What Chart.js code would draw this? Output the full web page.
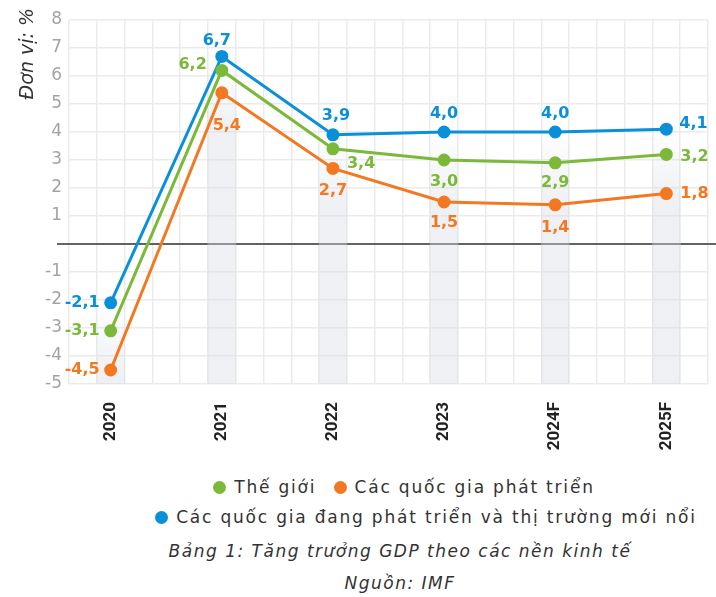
<!DOCTYPE html>
<html>
<head>
<meta charset="utf-8">
<script src="https://cdn.jsdelivr.net/npm/chart.js@4"></script>
<style>
  body { margin: 0; background: #fff; width: 716px; font-family: "DejaVu Sans", sans-serif; color: #333; }
  #wrap { position: relative; width: 716px; height: 460px; }
  .row { font-size: 17px; line-height: 30px; white-space: nowrap; text-align: center; letter-spacing: 1.8px; }
  .dot { display: inline-block; width: 13px; height: 13px; border-radius: 50%; margin-right: 8px; vertical-align: -1px; }
  .item { margin: 0 5px; }
  .cap { font-style: italic; font-size: 17px; line-height: 32px; text-align: center; padding-left: 84px; letter-spacing: 1.5px; }
</style>
</head>
<body>
<div id="wrap"><canvas id="gdpChart" width="716" height="460"></canvas></div>
<div class="row" style="padding-left:92px; margin-top:12px">
  <span class="item"><span class="dot" style="background:#7cb93a"></span>Thế giới</span>
  <span class="item"><span class="dot" style="background:#f37822"></span>Các quốc gia phát triển</span>
</div>
<div class="row" style="padding-left:136px">
  <span class="item"><span class="dot" style="background:#0a90d8"></span>Các quốc gia đang phát triển và thị trường mới nổi</span>
</div>
<div class="cap" style="margin-top:3px">Bảng 1: Tăng trưởng GDP theo các nền kinh tế</div>
<div class="cap">Nguồn: IMF</div>

<script>
let years = ["2020", "2021", "2022", "2023", "2024F", "2025F"];
let world = [-3.1, 6.2, 3.4, 3.0, 2.9, 3.2];
let developed = [-4.5, 5.4, 2.7, 1.5, 1.4, 1.8];
let emerging = [-2.1, 6.7, 3.9, 4.0, 4.0, 4.1];
let yTicks = [-5, -4, -3, -2, -1, 0, 1, 2, 3, 4, 5, 6, 7, 8];

// where each value label sits relative to its point: [align, dx, dy]
let worldLabelPos = [["l", -11, 0], ["l", -15, -6], ["r", 14, 15], ["c", 0, 22], ["c", 0, 20], ["r", 14, 2]];
let developedLabelPos = [["l", -11, 0], ["c", 5, 33], ["c", 0, 22], ["c", 0, 21], ["c", 0, 23], ["r", 14, 0]];
let emergingLabelPos = [["l", -11, 0], ["c", -5, -16], ["c", 3, -19], ["c", 0, -18], ["c", 0, -18], ["r", 13, -5]];

const GREEN = "#7cb93a", ORANGE = "#f37822", BLUE = "#0a90d8";

function pts(arr) {
    return arr.map((v, i) => ({ x: i, y: v }));
}

let bandTops = years.map((_, i) => Math.max(world[i], developed[i], emerging[i]));

const valueLabels = {
    id: "valueLabels",
    afterDatasetsDraw(chart) {
        const ctx = chart.ctx;
        const sets = [[world, worldLabelPos, GREEN], [developed, developedLabelPos, ORANGE], [emerging, emergingLabelPos, BLUE]];
        ctx.save();
        ctx.font = "bold 16px 'DejaVu Sans'";
        ctx.textBaseline = "middle";
        sets.forEach(([vals, pos, color]) => {
            vals.forEach((v, i) => {
                const x = chart.scales.x.getPixelForValue(i);
                const y = chart.scales.y.getPixelForValue(v);
                const [a, dx, dy] = pos[i];
                ctx.textAlign = a == "l" ? "right" : a == "r" ? "left" : "center";
                ctx.fillStyle = color;
                ctx.fillText(v.toFixed(1).replace(".", ","), x + dx, y + dy);
            });
        });
        ctx.restore();
    }
};

const zeroLine = {
    id: "zeroLine",
    beforeDatasetsDraw(chart) {
        const ctx = chart.ctx;
        const y = chart.scales.y.getPixelForValue(0);
        ctx.save();
        ctx.strokeStyle = "#333";
        ctx.lineWidth = 1.5;
        ctx.beginPath();
        ctx.moveTo(chart.chartArea.left - 12, y);
        ctx.lineTo(chart.chartArea.right + 10, y);
        ctx.stroke();
        ctx.restore();
    }
};

const unitTitle = {
    id: "unitTitle",
    afterDraw(chart) {
        const ctx = chart.ctx;
        ctx.save();
        ctx.translate(28, 8);
        ctx.rotate(-Math.PI / 2);
        ctx.font = "italic 19px 'DejaVu Sans'";
        ctx.fillStyle = "#333";
        ctx.textAlign = "right";
        ctx.textBaseline = "middle";
        ctx.fillText("Đơn vị: %", 0, 0);
        ctx.restore();
    }
};

function bandFill(context) {
    const chart = context.chart;
    if (!chart.chartArea) return "rgba(215,219,226,0.4)";
    const top = chart.scales.y.getPixelForValue(bandTops[context.dataIndex]);
    const g = chart.ctx.createLinearGradient(0, top, 0, top + 70);
    g.addColorStop(0, "rgba(215,219,226,0)");
    g.addColorStop(1, "rgba(215,219,226,0.4)");
    return g;
}

function lineSet(label, data, color) {
    return {
        type: "line",
        label: label,
        data: pts(data),
        borderColor: color,
        backgroundColor: color,
        borderWidth: 3,
        pointRadius: 5,
        pointHoverRadius: 5,
        tension: 0,
        order: 1
    };
}

function noPad(s) {
    s.paddingLeft = 0;
    s.paddingRight = 0;
    s.paddingTop = 0;
    s.paddingBottom = 0;
}

let ctx = document.getElementById("gdpChart").getContext("2d");
let chart = new Chart(ctx, {
    data: {
        datasets: [
            {
                type: "bar",
                data: bandTops.map((t, i) => ({ x: i, y: [-5, t] })),
                backgroundColor: bandFill,
                barThickness: 28,
                order: 10
            },
            lineSet("Thế giới", world, GREEN),
            lineSet("Các quốc gia phát triển", developed, ORANGE),
            lineSet("Các quốc gia đang phát triển và thị trường mới nổi", emerging, BLUE)
        ]
    },
    options: {
        responsive: false,
        animation: false,
        layout: { padding: { top: 20, right: 5, left: 0, bottom: 0 } },
        plugins: { legend: { display: false }, tooltip: { enabled: false } },
        scales: {
            x: {
                type: "linear",
                offset: false,
                min: -0.375,
                max: years.length - 0.625,
                afterBuildTicks: (axis) => {
                    let t = [];
                    for (let v = axis.min; v <= axis.max + 1e-6; v += 0.25) t.push({ value: v });
                    axis.ticks = t;
                },
                ticks: { display: false },
                grid: { color: "#ebebeb", lineWidth: 1.5, drawTicks: false, offset: false },
                border: { display: false },
                afterFit: (s) => { s.height = 0; noPad(s); }
            },
            xl: {
                type: "linear",
                position: "bottom",
                offset: false,
                min: -0.375,
                max: years.length - 0.625,
                afterBuildTicks: (axis) => { axis.ticks = years.map((_, i) => ({ value: i })); },
                ticks: {
                    autoSkip: false,
                    minRotation: 90,
                    maxRotation: 90,
                    padding: 10,
                    color: "#222",
                    font: { family: "Roboto", weight: "bold", size: 17 },
                    callback: (v) => years[v]
                },
                grid: { display: false },
                border: { display: false },
                afterFit: (s) => { s.height = 76; noPad(s); }
            },
            y: {
                min: -5,
                max: 8,
                afterBuildTicks: (axis) => { axis.ticks = yTicks.map(v => ({ value: v })); },
                ticks: {
                    color: "#a3a3a3",
                    padding: 7,
                    font: { family: "'DejaVu Sans'", size: 17 },
                    callback: (v) => v === 0 ? "" : v
                },
                grid: { color: "#ebebeb", lineWidth: 1.5, drawTicks: false },
                border: { display: false },
                afterFit: (s) => { s.width = 69; noPad(s); }
            }
        }
    },
    plugins: [zeroLine, valueLabels, unitTitle]
});
</script>
</body>
</html>
